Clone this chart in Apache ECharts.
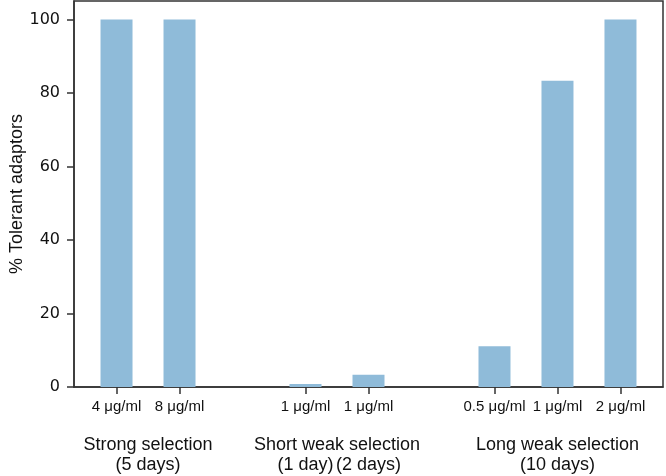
<!DOCTYPE html>
<html>
<head>
<meta charset="utf-8">
<script src="https://cdn.jsdelivr.net/npm/echarts@6/dist/echarts.min.js"></script>
<style>html,body{margin:0;padding:0;background:#fff}#c{width:666px;height:476px}</style>
</head>
<body>
<div id="c"></div>
<script>
const barPositions = [0, 1, 3, 4, 6, 7, 8];
const doseLabels = ['4 μg/ml', '8 μg/ml', '1 μg/ml', '1 μg/ml', '0.5 μg/ml', '1 μg/ml', '2 μg/ml'];
const tolerantPct = [100, 100, 0.8, 3.3, 11.1, 83.3, 100];
const groupPositions = [0.5, 3.5, 7];
const groupNames = ['Strong selection', 'Short weak selection', 'Long weak selection'];
const durationPositions = [0.5, 3, 4, 7];
const durationLabels = ['(5 days)', '(1 day)', '(2 days)', '(10 days)'];
const yTicks = [0, 20, 40, 60, 80, 100];

const xMin = -0.675, xMax = 8.675;
const sansA = '"Liberation Sans", Arial, sans-serif';
const sansD = '"DejaVu Sans", sans-serif';
const ink = '#333';

function lookup(pos, labels) {
  return function (v) {
    for (let i = 0; i < pos.length; i++) if (Math.abs(pos[i] - v) < 1e-6) return labels[i];
    return '';
  };
}

const chart = echarts.init(document.getElementById('c'));
chart.setOption({
  animation: false,
  grid: {left: 70, right: 3, top: 1, bottom: 89, containLabel: false, show: true, borderColor: ink, borderWidth: 1.5},
  xAxis: [
    {
      type: 'value', min: xMin, max: xMax, position: 'bottom',
      axisLine: {show: true, onZero: false, lineStyle: {color: ink, width: 1.5}},
      axisTick: {show: true, length: 7, customValues: barPositions, lineStyle: {color: ink, width: 1.5}},
      axisLabel: {show: true, customValues: barPositions, formatter: lookup(barPositions, doseLabels), margin: 12, fontFamily: sansA, fontSize: 15, color: '#111'},
      splitLine: {show: false}
    },
    {
      type: 'value', min: xMin, max: xMax, position: 'bottom',
      axisLine: {show: false, onZero: false}, axisTick: {show: false},
      axisLabel: {show: true, customValues: groupPositions, formatter: lookup(groupPositions, groupNames), margin: 49, fontFamily: sansA, fontSize: 18, color: '#111'},
      splitLine: {show: false}
    },
    {
      type: 'value', min: xMin, max: xMax, position: 'bottom',
      axisLine: {show: false, onZero: false}, axisTick: {show: false},
      axisLabel: {show: true, customValues: durationPositions, formatter: lookup(durationPositions, durationLabels), margin: 69, fontFamily: sansA, fontSize: 18, color: '#111'},
      splitLine: {show: false}
    }
  ],
  yAxis: {
    type: 'value', min: 0, max: 105, position: 'left',
    name: '% Tolerant adaptors', nameLocation: 'middle', nameGap: 48, nameMoveOverlap: false,
    nameTextStyle: {fontFamily: sansA, fontSize: 18, color: '#111'},
    axisLine: {show: true, onZero: false, lineStyle: {color: ink, width: 1.5}},
    axisTick: {show: true, length: 7, customValues: yTicks, lineStyle: {color: ink, width: 1.5}},
    axisLabel: {show: true, customValues: yTicks, margin: 14, fontFamily: sansD, fontSize: 16, color: '#111'},
    splitLine: {show: false}
  },
  series: [{
    type: 'bar', barWidth: 32,
    itemStyle: {color: '#8fbbd9'},
    data: barPositions.map((p, i) => [p, tolerantPct[i]])
  }]
});
</script>
</body>
</html>
